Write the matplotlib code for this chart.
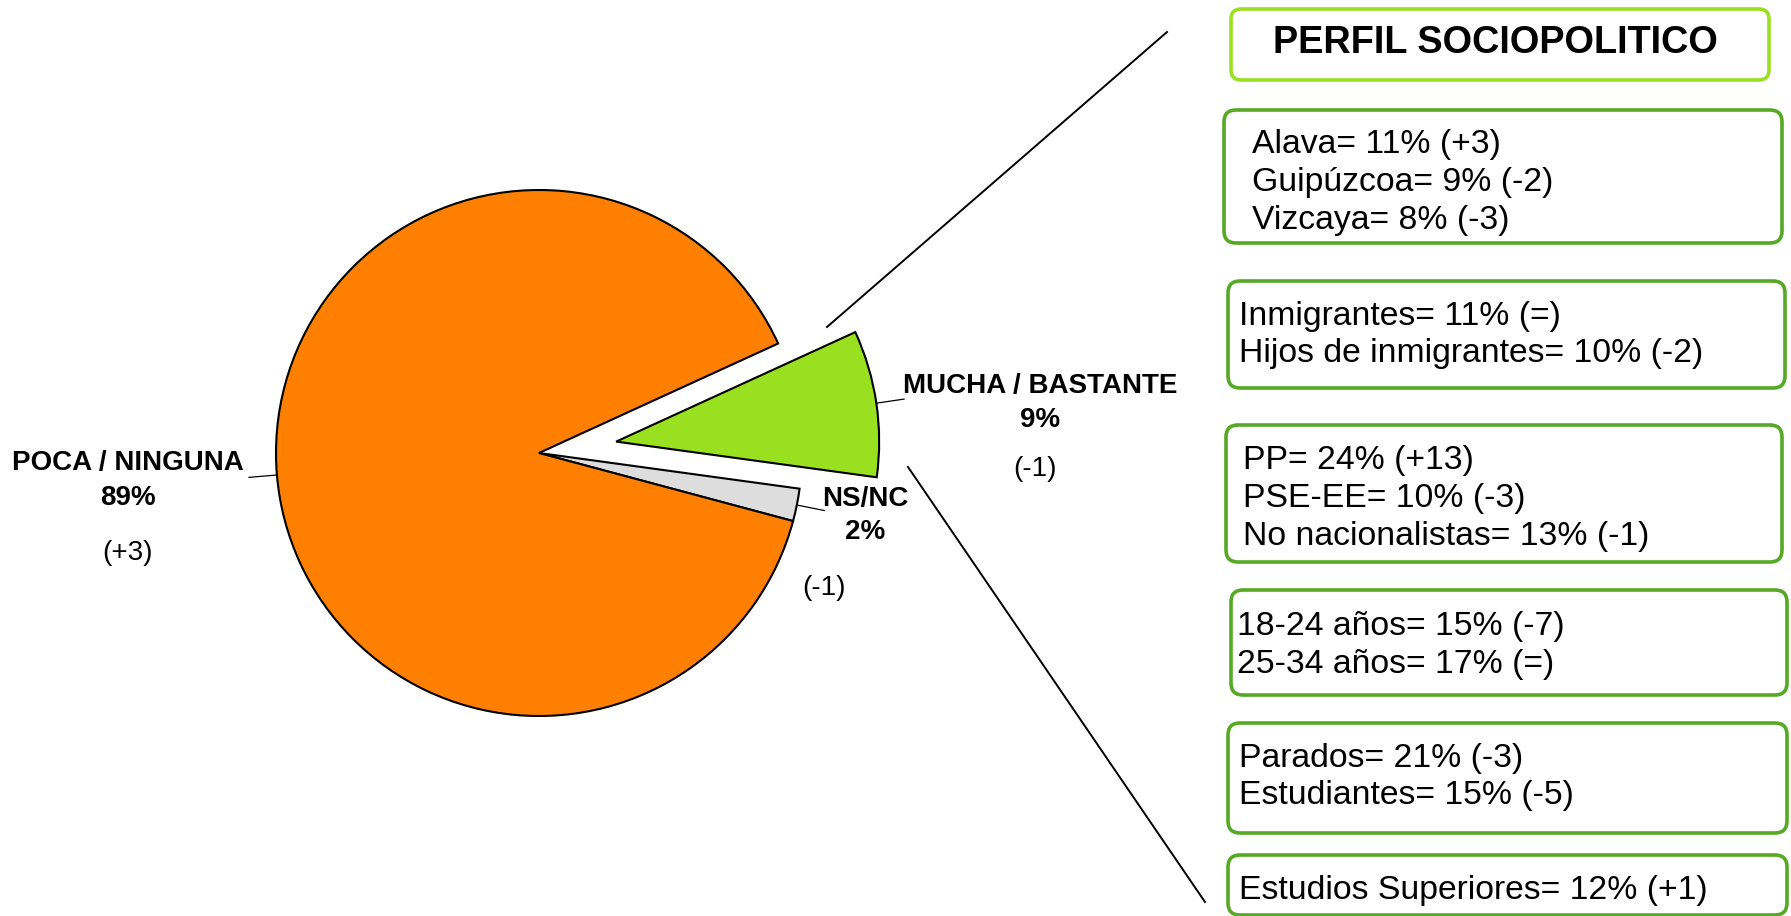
import matplotlib.pyplot as plt
from matplotlib.patches import FancyBboxPatch
import numpy as np

plt.rcParams['font.family'] = ['Liberation Sans', 'DejaVu Sans']

# Pie data (order: counter-clockwise from startangle)
categories = ['NS/NC', 'MUCHA / BASTANTE', 'POCA / NINGUNA']
values = [2, 9, 89]
changes = ['(-1)', '(-1)', '(+3)']
colors = ['#DDDDDD', '#99E020', '#FF8000']

# Profile boxes
title = 'PERFIL SOCIOPOLITICO'
box_lines = [
    ['Alava= 11% (+3)', 'Guipúzcoa= 9% (-2)', 'Vizcaya= 8% (-3)'],
    ['Inmigrantes= 11% (=)', 'Hijos de inmigrantes= 10% (-2)'],
    ['PP= 24% (+13)', 'PSE-EE= 10% (-3)', 'No nacionalistas= 13% (-1)'],
    ['18-24 años= 15% (-7)', '25-34 años= 17% (=)'],
    ['Parados= 21% (-3)', 'Estudiantes= 15% (-5)'],
    ['Estudios Superiores= 12% (+1)'],
]

W, H = 1791, 916
fig = plt.figure(figsize=(W / 100, H / 100), dpi=100)

# pie in pixel-like coordinates (y up)
ax = fig.add_axes([0, 0, 1, 1])
wedges, _ = ax.pie(values, colors=colors, startangle=-15, counterclock=True,
                   center=(539, 463), radius=263, explode=[0, 78, 0],
                   wedgeprops=dict(edgecolor='black', linewidth=1.5))
ax.set_xlim(0, W)
ax.set_ylim(0, H)
ax.set_aspect('equal')
ax.axis('off')

# short leader lines at the middle of each wedge
for w in wedges:
    th = np.deg2rad((w.theta1 + w.theta2) / 2)
    cx, cy = w.center
    r = w.r
    ax.plot([cx + r * np.cos(th), cx + (r + 28) * np.cos(th)],
            [cy + r * np.sin(th), cy + (r + 28) * np.sin(th)],
            color='black', linewidth=0.9)

# overlay axes, y down
ov = fig.add_axes([0, 0, 1, 1])
ov.set_xlim(0, W)
ov.set_ylim(H, 0)
ov.axis('off')

# pie labels
label_pos = {
    'NS/NC': ((865, 499), (865, 532), (824, 588)),
    'MUCHA / BASTANTE': ((1040, 386), (1040, 420), (1035, 469)),
    'POCA / NINGUNA': ((128, 463), (128, 498), (128, 553)),
}
for cat, val, ch in zip(categories, values, changes):
    p1, p2, p3 = label_pos[cat]
    ov.text(*p1, cat, ha='center', va='center', fontsize=20, fontweight='bold')
    ov.text(*p2, f'{val}%', ha='center', va='center', fontsize=20, fontweight='bold')
    ov.text(*p3, ch, ha='center', va='center', fontsize=20)

# connector lines to the profile panel
ov.plot([1167, 827], [32, 327], color='black', linewidth=1.4)
ov.plot([908, 1205], [467, 902], color='black', linewidth=1.4)

# title box
ov.add_patch(FancyBboxPatch((1231, 9), 538, 71, boxstyle='round,pad=0,rounding_size=10',
                            facecolor='white', edgecolor='#9ADF22', linewidth=2.6))
ov.text(1495, 43, title, ha='center', va='center', fontsize=27.3, fontweight='bold')

# profile boxes: (x, y, w, h, text x, first line y)
boxes = [
    (1224, 110, 558, 133, 1252, 145),
    (1228, 281, 557, 107, 1239, 316),
    (1226, 425, 556, 137, 1243, 461),
    (1231, 590, 556, 105, 1237, 627),
    (1228, 723, 559, 110, 1239, 758),
    (1228, 855, 559, 60, 1239, 890),
]
for (x, y, bw, bh, tx, ty), lines in zip(boxes, box_lines):
    ov.add_patch(FancyBboxPatch((x, y), bw, bh, boxstyle='round,pad=0,rounding_size=12',
                                facecolor='white', edgecolor='#55A925', linewidth=2.6))
    for i, line in enumerate(lines):
        ov.text(tx, ty + i * 37.5, line, ha='left', va='center', fontsize=24.3)

fig.savefig('out.png', dpi=100)
